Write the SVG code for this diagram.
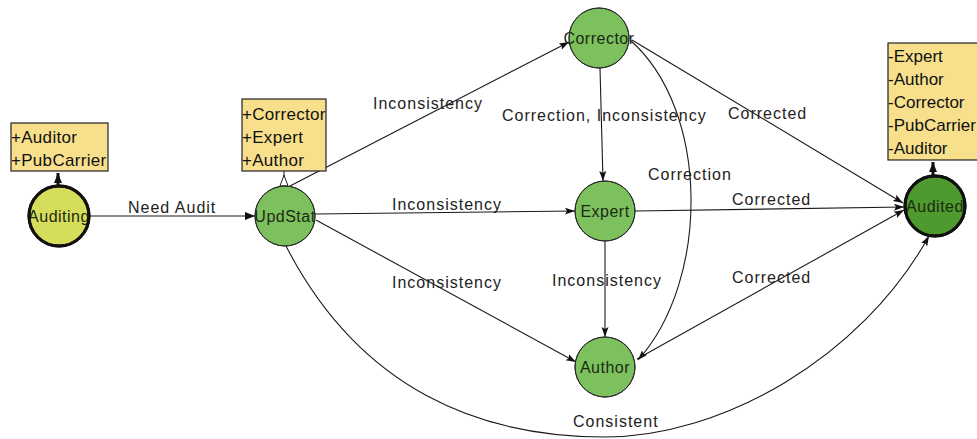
<svg xmlns="http://www.w3.org/2000/svg" width="977" height="439" viewBox="0 0 977 439">
  <style>
    .bg { fill: #ffffff; }
    .state { fill: #7cc15e; stroke: #2a2a2a; stroke-width: 1; }
    .start { fill: #d5dd5b; stroke: #111; stroke-width: 3; }
    .final { fill: #4f9a2f; stroke: #111; stroke-width: 3; }
    .ring { fill: none; }
    .nlabel { font-family: "Liberation Sans", Arial, sans-serif; font-size: 16px; letter-spacing: 0.5px; fill: #1c2a14; text-anchor: middle; }
    .elabel { font-family: "Liberation Sans", Arial, sans-serif; font-size: 16px; letter-spacing: 1px; fill: #222; }
    .note { fill: #f7df8c; stroke: #222; stroke-width: 1.2; }
    .ntext { font-family: "Liberation Sans", Arial, sans-serif; font-size: 17px; letter-spacing: 0.3px; fill: #111; }
    .ntext-tight { font-family: "Liberation Sans", Arial, sans-serif; font-size: 17px; fill: #111; }
    .edge { fill: none; stroke: #1a1a1a; stroke-width: 1.1; marker-end: url(#arrow); }
    .anchor { stroke: #111; stroke-width: 3; }
  </style>
  <defs>
    <marker id="arrow" viewBox="0 0 10 8" refX="10" refY="4" markerWidth="10" markerHeight="8" markerUnits="userSpaceOnUse" orient="auto">
      <path d="M0,0.5 L10,4 L0,7.5 L2,4 z" fill="#111"/>
    </marker>
    <marker id="arrowBig" viewBox="0 0 10 8" refX="10" refY="4" markerWidth="11" markerHeight="8" markerUnits="userSpaceOnUse" orient="auto">
      <path d="M0,0 L10,4 L0,8 z" fill="#111"/>
    </marker>
  </defs>

  <rect class="bg" x="0" y="0" width="977" height="439"/>

  <!-- transitions -->
  <g id="connectors">
    <path class="edge" style="marker-end:url(#arrowBig)" d="M90,216 L255,216"/>
    <path class="edge" d="M290,186 L569,42"/>
    <path class="edge" d="M315,214 L575,211"/>
    <path class="edge" d="M316,220 L576,362"/>
    <path class="edge" d="M286,246 C360,390 480,437 605,437 C720,437 860,360 929,236"/>
    <path class="edge" d="M600,68 L603,181"/>
    <path class="edge" d="M630,40 C710,110 710,280 638,360"/>
    <path class="edge" d="M632,40 L903,203"/>
    <path class="edge" d="M635,211 L904,207"/>
    <path class="edge" d="M605,241 L605,337"/>
    <path class="edge" d="M637,359 L904,210"/>

    <text class="elabel" x="128" y="213">Need Audit</text>
    <text class="elabel" x="373" y="109">Inconsistency</text>
    <text class="elabel" x="502" y="121">Correction, Inconsistency</text>
    <text class="elabel" x="392" y="210">Inconsistency</text>
    <text class="elabel" x="392" y="288">Inconsistency</text>
    <text class="elabel" x="552" y="286">Inconsistency</text>
    <text class="elabel" x="728" y="119">Corrected</text>
    <text class="elabel" x="648" y="180">Correction</text>
    <text class="elabel" x="732" y="205">Corrected</text>
    <text class="elabel" x="732" y="283">Corrected</text>
    <text class="elabel" x="573" y="427">Consistent</text>
  </g>

  <!-- initial state with its note -->
  <g id="auditing">
    <rect class="note" x="11" y="123" width="97" height="48"/>
    <text class="ntext" x="11" y="143">+Auditor</text>
    <text class="ntext" x="11" y="166">+PubCarrier</text>
    <line class="anchor" x1="58" y1="173" x2="58" y2="187"/>
    <polygon points="54,183 62,183 58,173" fill="#111"/>
    <circle class="start" cx="59" cy="216" r="30"/>
    <text class="nlabel" x="59" y="222">Auditing</text>
    <circle class="start ring" cx="59" cy="216" r="30"/>
  </g>

  <g id="updstat">
    <rect class="note" x="242" y="99" width="84" height="72"/>
    <text class="ntext" x="242" y="120">+Corrector</text>
    <text class="ntext" x="242" y="143">+Expert</text>
    <text class="ntext" x="242" y="166">+Author</text>
    <line x1="284" y1="171" x2="284" y2="187" stroke="#222" stroke-width="1"/>
    <polygon points="280,186 288,186 284,175" fill="#fff" stroke="#222" stroke-width="1"/>
    <circle class="state" cx="285" cy="216" r="30"/>
    <text class="nlabel" x="285" y="222">UpdStat</text>
    <circle class="state ring" cx="285" cy="216" r="30"/>
  </g>

  <g id="corrector">
    <circle class="state" cx="599" cy="38" r="30"/>
    <text class="nlabel" x="599" y="44">Corrector</text>
    <circle class="state ring" cx="599" cy="38" r="30"/>
  </g>

  <g id="expert">
    <circle class="state" cx="605" cy="211" r="30"/>
    <text class="nlabel" x="605" y="217">Expert</text>
    <circle class="state ring" cx="605" cy="211" r="30"/>
  </g>

  <g id="author">
    <circle class="state" cx="605" cy="367" r="30"/>
    <text class="nlabel" x="605" y="373">Author</text>
    <circle class="state ring" cx="605" cy="367" r="30"/>
  </g>

  <!-- final state with its note -->
  <g id="audited">
    <rect class="note" x="888" y="43" width="100" height="117"/>
    <text class="ntext-tight" x="888" y="62">-Expert</text>
    <text class="ntext-tight" x="888" y="85">-Author</text>
    <text class="ntext-tight" x="888" y="108">-Corrector</text>
    <text class="ntext-tight" x="888" y="131">-PubCarrier</text>
    <text class="ntext-tight" x="888" y="154">-Auditor</text>
    <line class="anchor" x1="933" y1="162" x2="933" y2="177"/>
    <polygon points="929,172 937,172 933,162" fill="#111"/>
    <circle class="final" cx="935" cy="206" r="30"/>
    <text class="nlabel" x="935" y="212">Audited</text>
    <circle class="final ring" cx="935" cy="206" r="30"/>
  </g>
</svg>
